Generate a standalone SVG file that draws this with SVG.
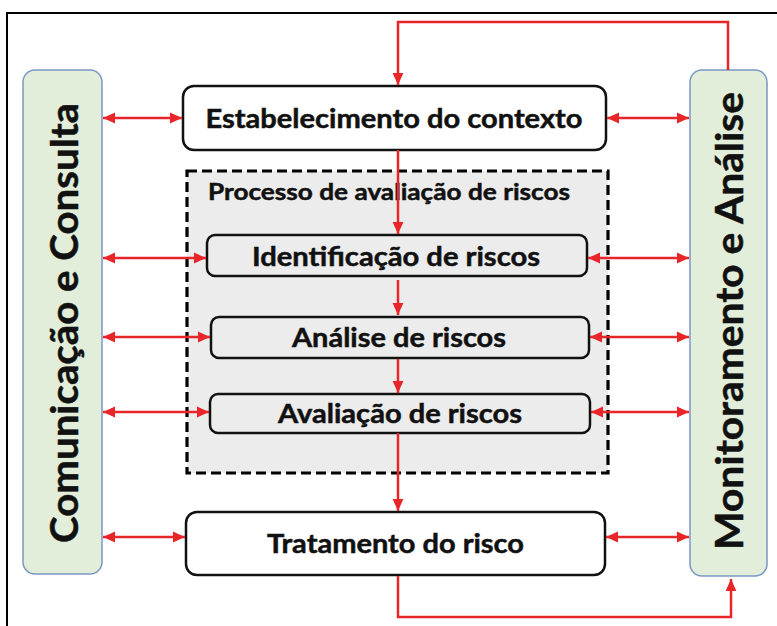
<svg xmlns="http://www.w3.org/2000/svg" width="777" height="626" viewBox="0 0 777 626">
  <defs>
    <marker id="ah" markerUnits="userSpaceOnUse" markerWidth="12" markerHeight="12" viewBox="0 0 10 10" refX="10" refY="5" orient="auto-start-reverse">
      <path d="M0,0.5 L10,5 L0,9.5 Z" fill="#e8262a"/>
    </marker>
    <style>
      .side { fill: #e2eed9; stroke: #7a98c4; stroke-width: 1.5; }
      .box { stroke: #111; stroke-width: 2.5; }
      .white { fill: #ffffff; }
      .grey { fill: #ececec; }
      .lbl { font-family: Lato, "Open Sans", "Liberation Sans", sans-serif; font-weight: bold; fill: #111; stroke: #111; stroke-width: 0.5; text-anchor: middle; }
      .conn line, .conn polyline { stroke: #e8262a; stroke-width: 2.5; fill: none; }
    </style>
  </defs>
  <rect x="0" y="0" width="777" height="626" fill="#ffffff"/>
  <rect x="7" y="13" width="800" height="700" fill="none" stroke="#000" stroke-width="2"/>

  <g id="comunicacao">
    <rect class="side" x="23" y="70" width="79" height="504" rx="12"/>
    <text class="lbl" font-size="38" transform="translate(78,323) rotate(-90)" textLength="440" lengthAdjust="spacingAndGlyphs">Comunicação e Consulta</text>
  </g>
  <g id="monitoramento">
    <rect class="side" x="690" y="70" width="77" height="506" rx="12"/>
    <text class="lbl" font-size="38" transform="translate(743,321) rotate(-90)" textLength="458" lengthAdjust="spacingAndGlyphs">Monitoramento e Análise</text>
  </g>

  <g id="processo">
    <rect x="187" y="171" width="421" height="302" fill="#ececec" stroke="#000" stroke-width="3.2" stroke-dasharray="10,5"/>
    <text class="lbl" font-size="23" x="208" y="200" style="text-anchor:start" textLength="362" lengthAdjust="spacingAndGlyphs">Processo de avaliação de riscos</text>
  </g>

  <g id="estabelecimento">
    <rect class="box white" x="183" y="86" width="423" height="64" rx="11"/>
    <text class="lbl" font-size="27" x="394" y="128" textLength="377" lengthAdjust="spacingAndGlyphs">Estabelecimento do contexto</text>
  </g>
  <g id="identificacao">
    <rect class="box grey" x="207" y="235" width="380" height="41" rx="8"/>
    <text class="lbl" font-size="27" x="396" y="266" textLength="288" lengthAdjust="spacingAndGlyphs">Identificação de riscos</text>
  </g>
  <g id="analise">
    <rect class="box grey" x="211" y="317" width="378" height="41" rx="8"/>
    <text class="lbl" font-size="27" x="399" y="347" textLength="214" lengthAdjust="spacingAndGlyphs">Análise de riscos</text>
  </g>
  <g id="avaliacao">
    <rect class="box grey" x="210" y="394" width="380" height="39" rx="8"/>
    <text class="lbl" font-size="27" x="400" y="423" textLength="244" lengthAdjust="spacingAndGlyphs">Avaliação de riscos</text>
  </g>
  <g id="tratamento">
    <rect class="box white" x="186" y="512" width="419" height="63" rx="11"/>
    <text class="lbl" font-size="27" x="395.5" y="553" textLength="257" lengthAdjust="spacingAndGlyphs">Tratamento do risco</text>
  </g>

  <g id="connectors" class="conn">
    <polyline points="728,70 728,22 398,22 398,85" marker-end="url(#ah)"/>
    <polyline points="398,576 398,617 731,617 731,579" marker-end="url(#ah)"/>
    <line x1="398" y1="150" x2="398" y2="234" marker-end="url(#ah)"/>
    <line x1="398" y1="280" x2="398" y2="315" marker-end="url(#ah)"/>
    <line x1="398" y1="359" x2="398" y2="393" marker-end="url(#ah)"/>
    <line x1="398" y1="433" x2="398" y2="511" marker-end="url(#ah)"/>

    <line x1="103" y1="118" x2="182" y2="118" marker-start="url(#ah)" marker-end="url(#ah)"/>
    <line x1="103" y1="258" x2="206" y2="258" marker-start="url(#ah)" marker-end="url(#ah)"/>
    <line x1="103" y1="337" x2="210" y2="337" marker-start="url(#ah)" marker-end="url(#ah)"/>
    <line x1="103" y1="412" x2="209" y2="412" marker-start="url(#ah)" marker-end="url(#ah)"/>
    <line x1="103" y1="537" x2="185" y2="537" marker-start="url(#ah)" marker-end="url(#ah)"/>

    <line x1="607" y1="118" x2="689" y2="118" marker-start="url(#ah)" marker-end="url(#ah)"/>
    <line x1="588" y1="258" x2="689" y2="258" marker-start="url(#ah)" marker-end="url(#ah)"/>
    <line x1="590" y1="337" x2="689" y2="337" marker-start="url(#ah)" marker-end="url(#ah)"/>
    <line x1="591" y1="412" x2="689" y2="412" marker-start="url(#ah)" marker-end="url(#ah)"/>
    <line x1="606" y1="537" x2="689" y2="537" marker-start="url(#ah)" marker-end="url(#ah)"/>
  </g>
</svg>
